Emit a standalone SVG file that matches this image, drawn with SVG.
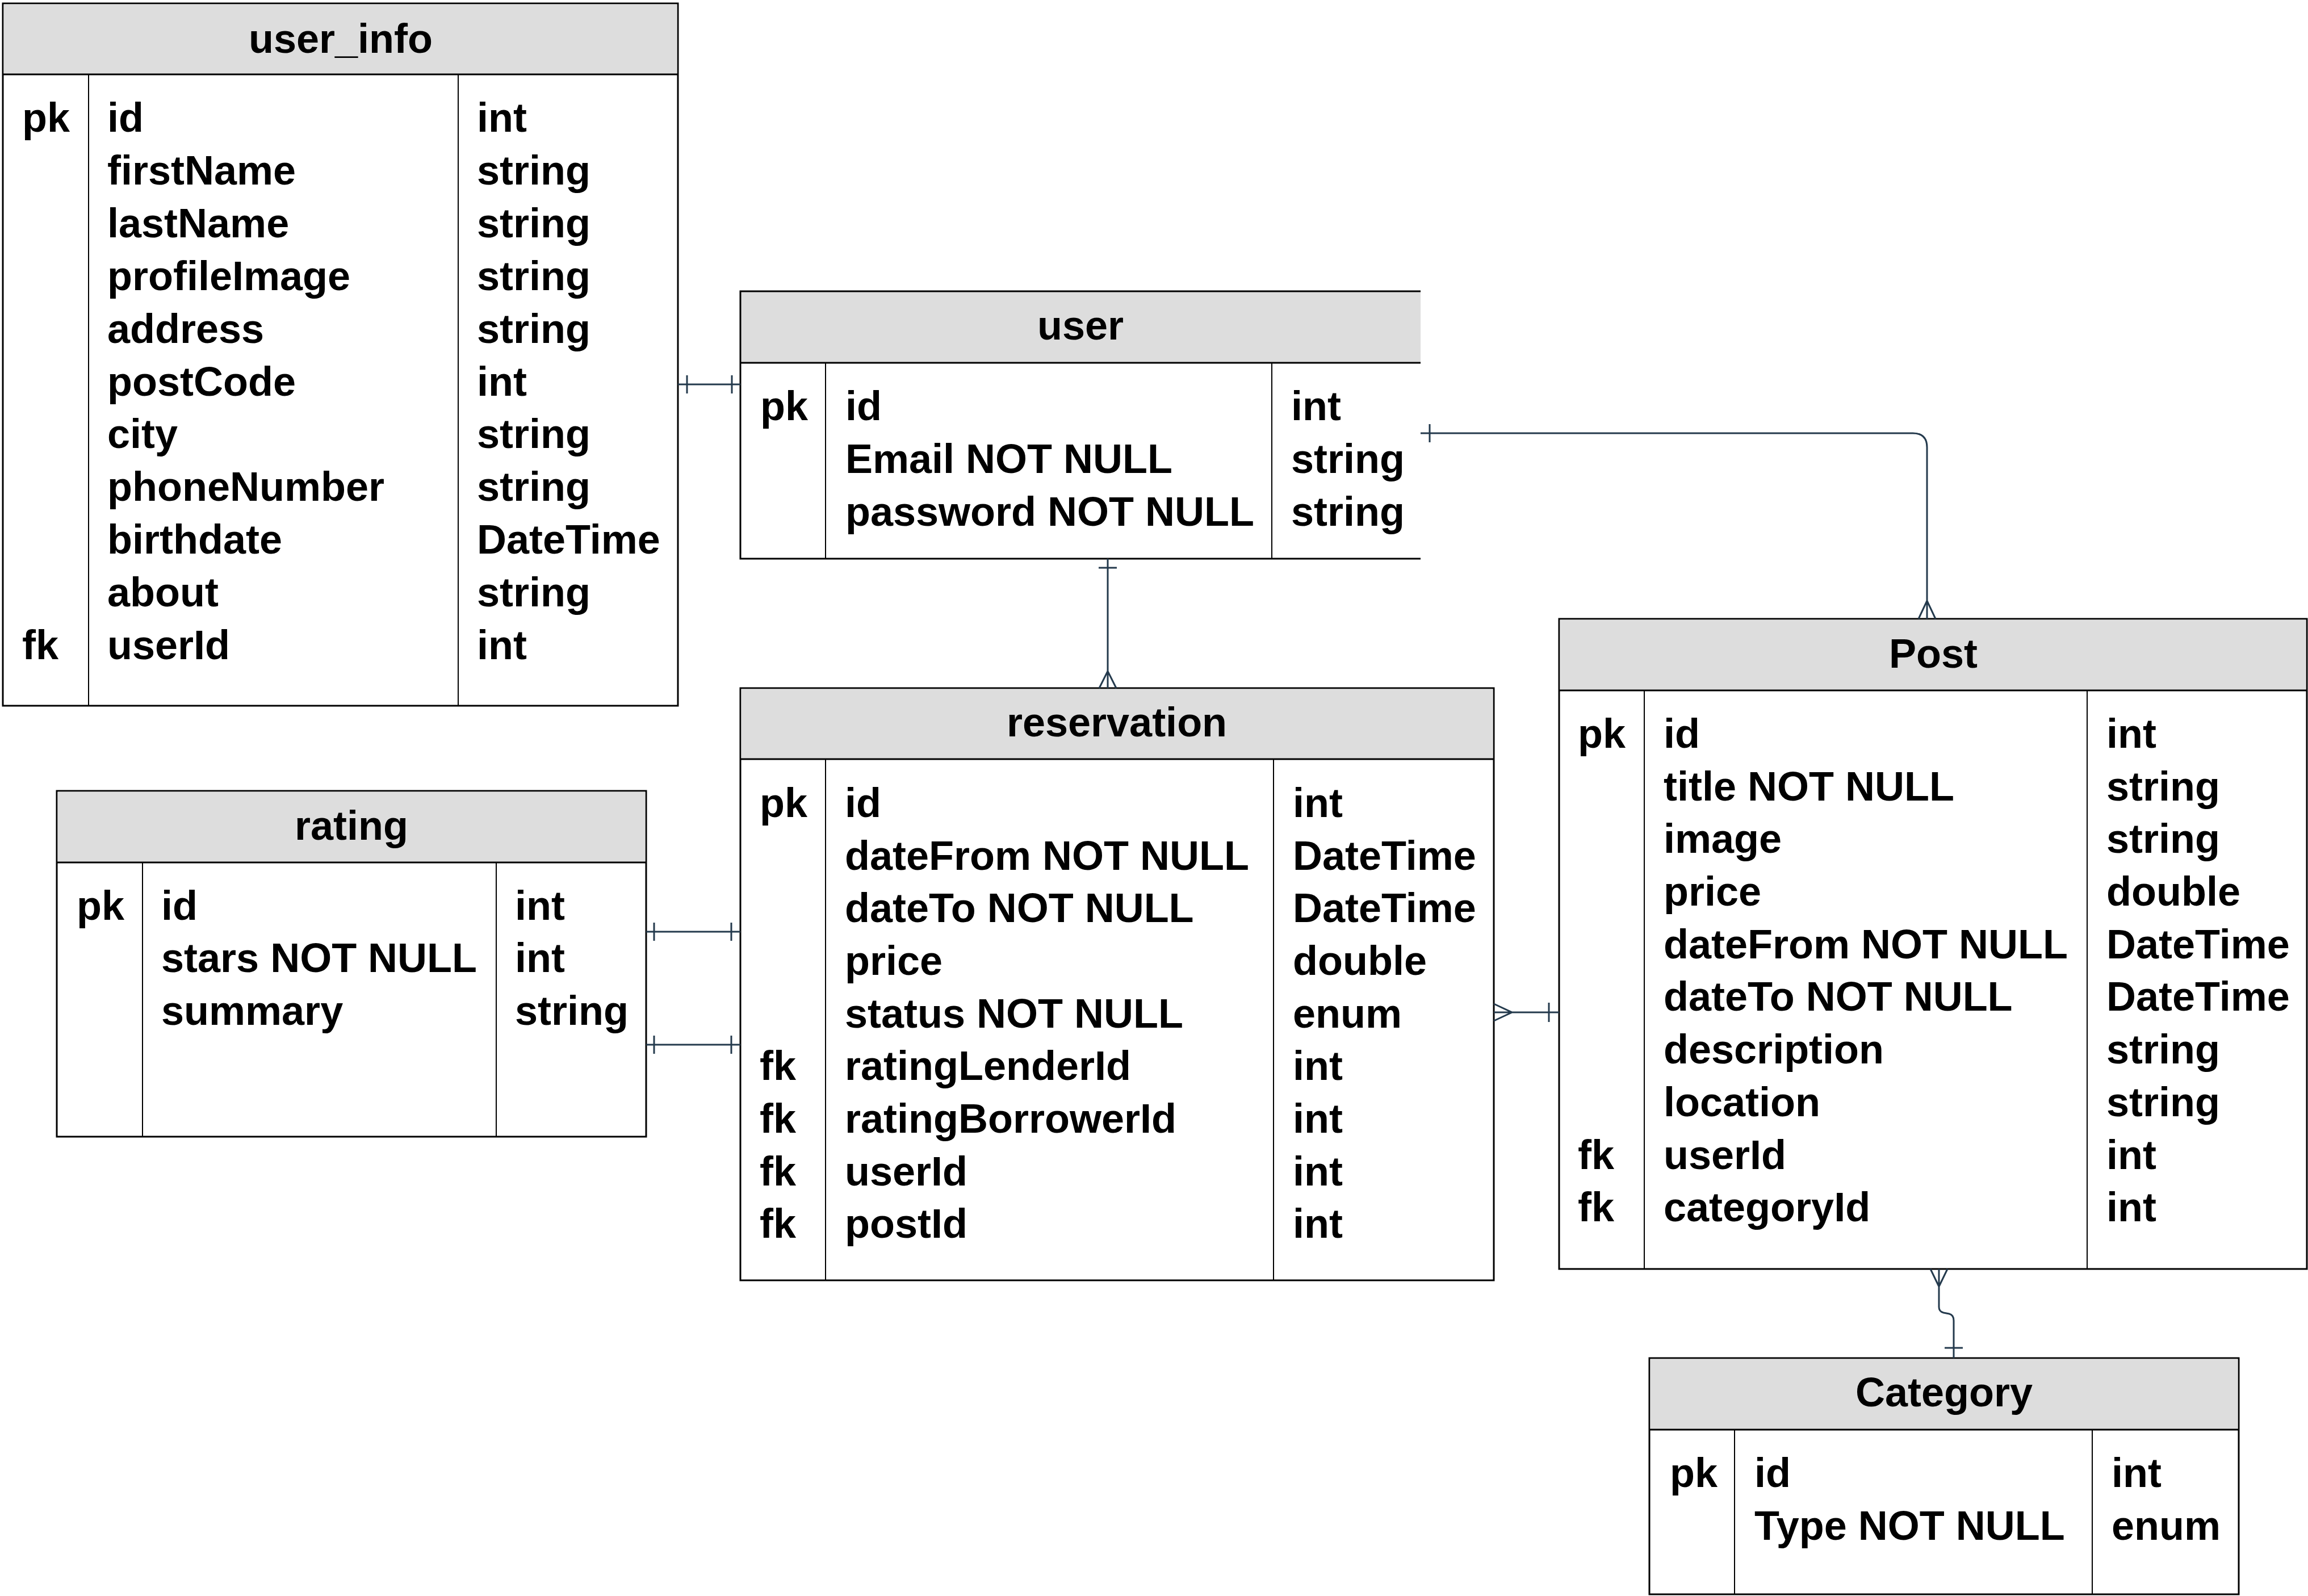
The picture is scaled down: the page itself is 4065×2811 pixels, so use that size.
<svg xmlns="http://www.w3.org/2000/svg" width="4065" height="2811" viewBox="0 0 4065 2811">
<style>
text{font-family:"Liberation Sans",Arial,Helvetica,sans-serif;font-weight:bold;font-size:72px;fill:#000}
.title{text-anchor:middle}
.hdr{fill:#dddddd;stroke:none}
.box{fill:#ffffff;stroke:#000;stroke-width:3}
.ol{fill:none;stroke:#000;stroke-width:3}
.col{stroke:#000;stroke-width:2}
.cn{fill:none;stroke:#243a4d;stroke-width:3}
</style>
<rect x="0" y="0" width="4065" height="2811" fill="#ffffff"/>

<g id="user_info">
<rect class="box" x="5" y="6" width="1189" height="1237"/>
<rect class="hdr" x="6.5" y="7.5" width="1186" height="123.5"/>
<line class="ol" x1="5" y1="131" x2="1194" y2="131"/>
<line class="col" x1="156" y1="131" x2="156" y2="1243"/>
<line class="col" x1="807" y1="131" x2="807" y2="1243"/>
<text class="title" x="600" y="93">user_info</text>
<text x="39" y="232">pk</text>
<text x="39" y="1161">fk</text>
<text x="189" y="232">id</text>
<text x="189" y="325">firstName</text>
<text x="189" y="418">lastName</text>
<text x="189" y="511">profileImage</text>
<text x="189" y="604">address</text>
<text x="189" y="697">postCode</text>
<text x="189" y="789">city</text>
<text x="189" y="882">phoneNumber</text>
<text x="189" y="975">birthdate</text>
<text x="189" y="1068">about</text>
<text x="189" y="1161">userId</text>
<text x="840" y="232">int</text>
<text x="840" y="325">string</text>
<text x="840" y="418">string</text>
<text x="840" y="511">string</text>
<text x="840" y="604">string</text>
<text x="840" y="697">int</text>
<text x="840" y="789">string</text>
<text x="840" y="882">string</text>
<text x="840" y="975">DateTime</text>
<text x="840" y="1068">string</text>
<text x="840" y="1161">int</text>
</g>

<g id="user">
<rect class="hdr" x="1304" y="513" width="1198" height="126"/>
<path class="ol" d="M2502,513 H1304 V984 H2502"/>
<line class="ol" x1="1304" y1="639" x2="2502" y2="639"/>
<line class="col" x1="1454" y1="639" x2="1454" y2="984"/>
<line class="col" x1="2240" y1="639" x2="2240" y2="984"/>
<text class="title" x="1903" y="598">user</text>
<text x="1339" y="740">pk</text>
<text x="1489" y="740">id</text>
<text x="1489" y="833">Email NOT NULL</text>
<text x="1489" y="926">password NOT NULL</text>
<text x="2274" y="740">int</text>
<text x="2274" y="833">string</text>
<text x="2274" y="926">string</text>
</g>

<g id="reservation">
<rect class="box" x="1304" y="1212" width="1327" height="1043"/>
<rect class="hdr" x="1305.5" y="1213.5" width="1324" height="123.5"/>
<line class="ol" x1="1304" y1="1337" x2="2631" y2="1337"/>
<line class="col" x1="1454" y1="1337" x2="1454" y2="2255"/>
<line class="col" x1="2243" y1="1337" x2="2243" y2="2255"/>
<text class="title" x="1967" y="1297">reservation</text>
<text x="1338" y="1439">pk</text>
<text x="1338" y="1902">fk</text>
<text x="1338" y="1995">fk</text>
<text x="1338" y="2088">fk</text>
<text x="1338" y="2180">fk</text>
<text x="1488" y="1439">id</text>
<text x="1488" y="1532">dateFrom NOT NULL</text>
<text x="1488" y="1624">dateTo NOT NULL</text>
<text x="1488" y="1717">price</text>
<text x="1488" y="1810">status NOT NULL</text>
<text x="1488" y="1902">ratingLenderId</text>
<text x="1488" y="1995">ratingBorrowerId</text>
<text x="1488" y="2088">userId</text>
<text x="1488" y="2180">postId</text>
<text x="2277" y="1439">int</text>
<text x="2277" y="1532">DateTime</text>
<text x="2277" y="1624">DateTime</text>
<text x="2277" y="1717">double</text>
<text x="2277" y="1810">enum</text>
<text x="2277" y="1902">int</text>
<text x="2277" y="1995">int</text>
<text x="2277" y="2088">int</text>
<text x="2277" y="2180">int</text>
</g>

<g id="rating">
<rect class="box" x="100" y="1393" width="1038" height="609"/>
<rect class="hdr" x="101.5" y="1394.5" width="1035" height="124.5"/>
<line class="ol" x1="100" y1="1519" x2="1138" y2="1519"/>
<line class="col" x1="251" y1="1519" x2="251" y2="2002"/>
<line class="col" x1="874" y1="1519" x2="874" y2="2002"/>
<text class="title" x="619" y="1479">rating</text>
<text x="135" y="1620">pk</text>
<text x="284" y="1620">id</text>
<text x="284" y="1712">stars NOT NULL</text>
<text x="284" y="1805">summary</text>
<text x="907" y="1620">int</text>
<text x="907" y="1712">int</text>
<text x="907" y="1805">string</text>
</g>

<g id="Post">
<rect class="box" x="2746" y="1090" width="1317" height="1145"/>
<rect class="hdr" x="2747.5" y="1091.5" width="1314" height="124.5"/>
<line class="ol" x1="2746" y1="1216" x2="4063" y2="1216"/>
<line class="col" x1="2896" y1="1216" x2="2896" y2="2235"/>
<line class="col" x1="3676" y1="1216" x2="3676" y2="2235"/>
<text class="title" x="3405" y="1176">Post</text>
<text x="2779" y="1317">pk</text>
<text x="2779" y="2059">fk</text>
<text x="2779" y="2151">fk</text>
<text x="2930" y="1317">id</text>
<text x="2930" y="1410">title NOT NULL</text>
<text x="2930" y="1502">image</text>
<text x="2930" y="1595">price</text>
<text x="2930" y="1688">dateFrom NOT NULL</text>
<text x="2930" y="1780">dateTo NOT NULL</text>
<text x="2930" y="1873">description</text>
<text x="2930" y="1966">location</text>
<text x="2930" y="2059">userId</text>
<text x="2930" y="2151">categoryId</text>
<text x="3710" y="1317">int</text>
<text x="3710" y="1410">string</text>
<text x="3710" y="1502">string</text>
<text x="3710" y="1595">double</text>
<text x="3710" y="1688">DateTime</text>
<text x="3710" y="1780">DateTime</text>
<text x="3710" y="1873">string</text>
<text x="3710" y="1966">string</text>
<text x="3710" y="2059">int</text>
<text x="3710" y="2151">int</text>
</g>

<g id="Category">
<rect class="box" x="2905" y="2392" width="1038" height="416"/>
<rect class="hdr" x="2906.5" y="2393.5" width="1035" height="124.5"/>
<line class="ol" x1="2905" y1="2518" x2="3943" y2="2518"/>
<line class="col" x1="3055" y1="2518" x2="3055" y2="2808"/>
<line class="col" x1="3685" y1="2518" x2="3685" y2="2808"/>
<text class="title" x="3424" y="2477">Category</text>
<text x="2941" y="2619">pk</text>
<text x="3090" y="2619">id</text>
<text x="3090" y="2712">Type NOT NULL</text>
<text x="3719" y="2619">int</text>
<text x="3719" y="2712">enum</text>
</g>

<g id="connectors">
<!-- user_info - user -->
<path class="cn" d="M1194,677 H1304 M1210,661 V693 M1289,661 V693"/>
<!-- user - reservation -->
<path class="cn" d="M1951,984 V1212 M1935,1000 H1967 M1936,1212 L1951,1182 L1966,1212"/>
<!-- user - Post -->
<path class="cn" d="M2502,763 H3369 Q3394,763 3394,788 V1090 M2518,747 V779 M3379,1090 L3394,1058 L3409,1090"/>
<!-- rating - reservation (lender) -->
<path class="cn" d="M1138,1641 H1304 M1152,1625 V1657 M1288,1625 V1657"/>
<!-- rating - reservation (borrower) -->
<path class="cn" d="M1138,1840 H1304 M1152,1824 V1856 M1288,1824 V1856"/>
<!-- reservation - Post -->
<path class="cn" d="M2631,1783 H2746 M2631,1768 L2663,1783 L2631,1798 M2728,1766 V1800"/>
<!-- Post - Category -->
<path class="cn" d="M3415,2235 V2302 Q3415,2310 3423,2312 L3433,2314 Q3441,2316 3441,2326 V2392 M3400,2235 L3415,2266 L3430,2235 M3425,2374 H3457"/>
</g>
</svg>
